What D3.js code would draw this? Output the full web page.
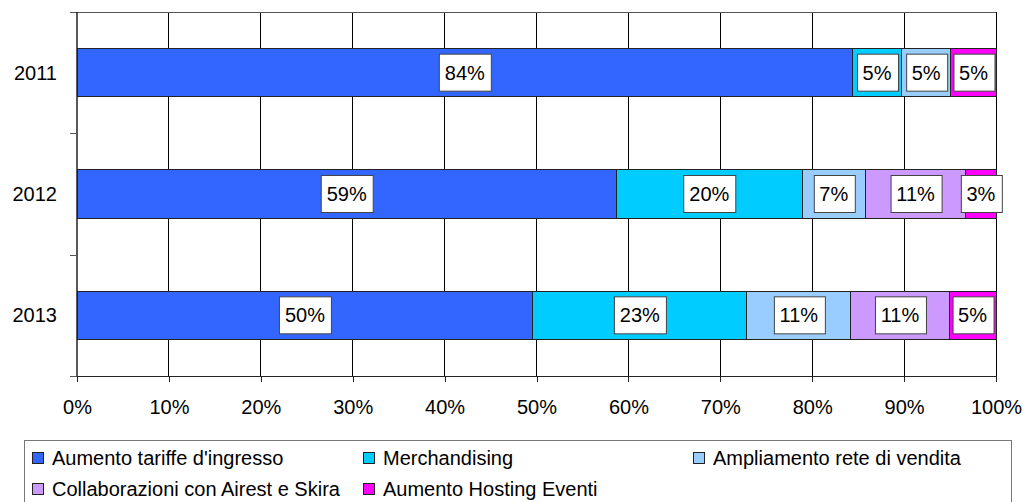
<!DOCTYPE html>
<html>
<head>
<meta charset="utf-8">
<script src="https://cdn.jsdelivr.net/npm/d3@7"></script>
<style>
  body { margin: 0; background: #fff; }
  svg { display: block; font-family: "Liberation Sans", Arial, sans-serif; }
</style>
</head>
<body>
<div id="chart"></div>
<script>
// data
const years = ["2011", "2012", "2013"];
const seriesNames = [
  "Aumento tariffe d'ingresso",
  "Merchandising",
  "Ampliamento rete di vendita",
  "Collaborazioni con Airest e Skira",
  "Aumento Hosting Eventi"
];
const aumentoTariffe = [84.4, 58.7, 49.6];
const merchandising = [5.3, 20.2, 23.3];
const ampliamentoRete = [5.4, 6.9, 11.3];
const collaborazioni = [0, 10.9, 10.7];
const hostingEventi = [4.9, 3.3, 5.1];
const xTicks = [0, 10, 20, 30, 40, 50, 60, 70, 80, 90, 100];

const colors = ["#3366FF", "#00CCFF", "#99CCFF", "#CC99FF", "#FF00FF"];

const width = 1027, height = 502;
const margin = { top: 12, left: 77, right: 31, bottom: 126 };

const svg = d3.select("#chart")
  .append("svg")
  .attr("width", width)
  .attr("height", height);

// build rows for d3.stack
const allSeries = [aumentoTariffe, merchandising, ampliamentoRete, collaborazioni, hostingEventi];
const rows = years.map((y, i) => {
  const r = { year: y };
  seriesNames.forEach((s, j) => { r[s] = allSeries[j][i]; });
  return r;
});
const stacked = d3.stack().keys(seriesNames)(rows);

const x = d3.scaleLinear()
  .domain([0, 100])
  .range([margin.left, width - margin.right]);

const y = d3.scaleBand()
  .domain(years)
  .range([margin.top, height - margin.bottom])
  .paddingInner(0.6)
  .paddingOuter(0.3);

const plotBottom = height - margin.bottom;

// vertical gridlines
svg.append("g")
  .selectAll("line")
  .data(xTicks.slice(1))
  .enter()
  .append("line")
  .attr("x1", d => x(d)).attr("x2", d => x(d))
  .attr("y1", margin.top).attr("y2", plotBottom)
  .attr("stroke", "#000")
  .attr("stroke-width", 1)
  .attr("shape-rendering", "crispEdges");

// top border
svg.append("line")
  .attr("x1", margin.left - 7).attr("x2", x(100))
  .attr("y1", margin.top).attr("y2", margin.top)
  .attr("stroke", "#555")
  .attr("shape-rendering", "crispEdges");

// bars
const layer = svg.append("g")
  .selectAll("g")
  .data(stacked)
  .enter()
  .append("g")
  .attr("fill", (d, i) => colors[i]);

layer.selectAll("rect")
  .data(d => d.filter(p => p[1] - p[0] > 0))
  .enter()
  .append("rect")
  .attr("x", d => x(d[0]))
  .attr("y", d => y(d.data.year))
  .attr("width", d => x(d[1]) - x(d[0]))
  .attr("height", y.bandwidth())
  .attr("stroke", "#222")
  .attr("stroke-width", 1)
  .attr("shape-rendering", "crispEdges");

// x axis
const xAxis = d3.axisBottom(x)
  .tickValues(xTicks)
  .tickFormat(d => d + "%")
  .tickSize(6)
  .tickSizeOuter(0);

const gx = svg.append("g")
  .attr("transform", `translate(0,${plotBottom})`)
  .call(xAxis);
gx.select(".domain").attr("stroke", "#222").attr("shape-rendering", "crispEdges");
gx.selectAll(".tick line").attr("stroke", "#222").attr("shape-rendering", "crispEdges");
gx.selectAll(".tick text")
  .attr("font-size", 20)
  .attr("font-family", "Liberation Sans, Arial, sans-serif")
  .attr("fill", "#000")
  .attr("dy", "0.71em")
  .attr("y", 24);

// y axis line and ticks at band boundaries
svg.append("line")
  .attr("x1", margin.left).attr("x2", margin.left)
  .attr("y1", margin.top).attr("y2", plotBottom)
  .attr("stroke", "#222")
  .attr("stroke-width", 1.5);

const boundaries = years.map(yr => y(yr) - y.step() * y.paddingInner() / 2).concat([plotBottom]);
svg.append("g")
  .selectAll("line")
  .data(boundaries.slice(1))
  .enter()
  .append("line")
  .attr("x1", margin.left - 7).attr("x2", margin.left)
  .attr("y1", d => Math.round(d) + 0.5).attr("y2", d => Math.round(d) + 0.5)
  .attr("stroke", "#555");

svg.append("g")
  .selectAll("text")
  .data(years)
  .enter()
  .append("text")
  .attr("x", 57)
  .attr("y", d => y(d) + y.bandwidth() / 2)
  .attr("dy", "0.35em")
  .attr("text-anchor", "end")
  .attr("font-size", 20)
  .attr("fill", "#000")
  .text(d => d);

// data labels
const fmt = d3.format(".0f");
const labels = [];
stacked.forEach(s => s.forEach(p => {
  if (p[1] - p[0] > 0) labels.push({ cx: x((p[0] + p[1]) / 2), year: p.data.year, text: fmt(p[1] - p[0]) + "%" });
}));

const lab = svg.append("g")
  .selectAll("g")
  .data(labels)
  .enter()
  .append("g")
  .attr("transform", d => `translate(${d.cx},${y(d.year) + y.bandwidth() / 2})`);

lab.append("text")
  .attr("text-anchor", "middle")
  .attr("dy", "0.35em")
  .attr("font-size", 20)
  .attr("fill", "#000")
  .text(d => d.text);

lab.each(function () {
  const g = d3.select(this);
  const bb = g.select("text").node().getBBox();
  g.insert("rect", "text")
    .attr("x", Math.round(bb.x - 6) + 0.5)
    .attr("y", -18.5)
    .attr("width", Math.round(bb.width + 12))
    .attr("height", 37)
    .attr("fill", "#fff")
    .attr("stroke", "#444")
    .attr("stroke-width", 1);
});

// legend
svg.append("rect")
  .attr("x", 24.5).attr("y", 440.5)
  .attr("width", 987).attr("height", 70)
  .attr("fill", "#fff")
  .attr("stroke", "#777");

const legendCols = [32, 363, 693];
const legendRows = [458, 489];
const leg = svg.append("g")
  .selectAll("g")
  .data(seriesNames)
  .enter()
  .append("g")
  .attr("transform", (d, i) => `translate(${legendCols[i % 3]},${legendRows[Math.floor(i / 3)]})`);

leg.append("rect")
  .attr("x", 0.5).attr("y", -5.5)
  .attr("width", 11).attr("height", 11)
  .attr("fill", (d, i) => colors[i])
  .attr("stroke", "#222");

leg.append("text")
  .attr("x", 20)
  .attr("dy", "0.35em")
  .attr("font-size", 20)
  .attr("fill", "#000")
  .text(d => d);
</script>
</body>
</html>
